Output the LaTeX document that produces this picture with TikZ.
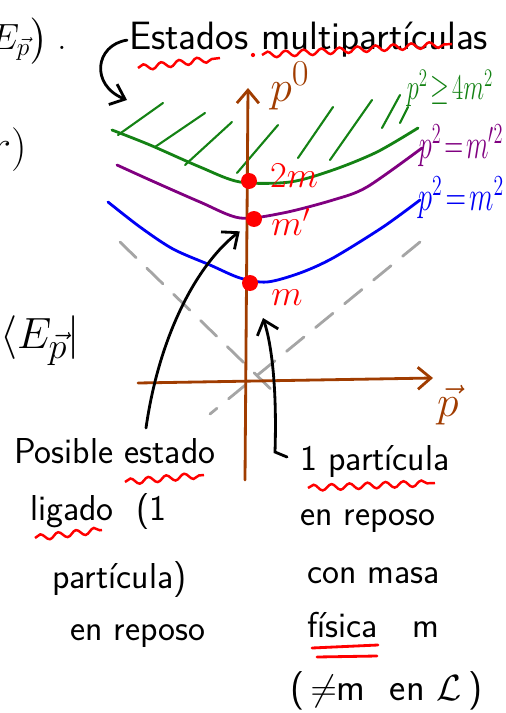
\documentclass[tikz,border=0pt]{standalone}
\usepackage{amsmath, amssymb}
\usepackage{tikz}
\usetikzlibrary{arrows.meta, decorations.pathmorphing}
\definecolor{AxisBrown}{RGB}{160, 60, 0}
\definecolor{HatchGreen}{RGB}{20, 130, 20}
\definecolor{ShellPurple}{RGB}{128, 0, 128}
\definecolor{ShellBlue}{RGB}{0, 0, 245}
\definecolor{MarkRed}{RGB}{255, 0, 0}
\definecolor{ConeGray}{RGB}{165, 165, 165}

\begin{document}
\begin{tikzpicture}[x=0.02cm, y=-0.02cm,
    pen/.style={line width=1.6pt, line cap=round},
    handtip/.style={-{Straight Barb[length=2.6mm, width=4.4mm]}},
    scribble/.style={font=\sffamily\fontsize{20.5}{24}\selectfont, inner sep=1pt, anchor=base west},
    massdot/.style={circle, fill=MarkRed, inner sep=0pt, minimum size=0.32cm},
    squiggle/.style={MarkRed, line width=1.4pt, decorate, decoration={snake, segment length=0.36cm, amplitude=0.06cm}}]
  \useasboundingbox (0,0) rectangle (506,713);

    % Cut-off notes on the left
    \node[anchor=base east, inner sep=0pt, font=\fontsize{22}{24}\selectfont] (fraga) at (68,50) {$E_{\vec p}\big)$\hspace{0.2cm}.};
    \node[anchor=base east, inner sep=0pt, font=\fontsize{26}{28}\selectfont] (fragb) at (27,160) {$r)$};
    \node[anchor=base east, inner sep=0pt, font=\fontsize{30}{32}\selectfont] (fragc) at (80,348) {$\langle E_{\vec p}|$};

    % Light cone
    \coordinate (coneA) at (120,242); \coordinate (coneB) at (280,398);
    \coordinate (coneC) at (420,242); \coordinate (coneD) at (210,414);
    \draw[pen, ConeGray, dash pattern=on 0.45cm off 0.3cm] (coneA) -- (coneB);
    \draw[pen, ConeGray, dash pattern=on 0.45cm off 0.3cm] (coneC) -- (coneD);

    % Mass shells
    \draw[pen, HatchGreen] plot[smooth] coordinates {(112,130) (150,145) (200,167) (240,182) (290,182) (333,170) (377,152) (418,128)};
    \draw[pen, ShellPurple] plot[smooth] coordinates {(117,165) (150,180) (200,202) (240,218) (283,213) (333,200) (367,187) (422,148)};
    \draw[pen, ShellBlue] plot[smooth] coordinates {(108,202) (140,227) (173,249) (210,265) (240,278) (267,282) (300,273) (333,258) (383,227) (420,200)};

    % Hatching above the continuum
    \foreach \xa/\ya/\xb/\yb in {118/135/163/103, 155/147/205/113, 185/165/232/122, 237/173/278/125,
                                 298/158/333/107, 330/160/372/100, 382/128/400/95, 400/123/408/107} {
      \draw[line width=1.2pt, HatchGreen, line cap=round] (\xa,\ya) -- (\xb,\yb);
    }

    % Axes
    \coordinate (p0bot) at (245,480); \coordinate (p0top) at (248,88);
    \coordinate (pleft) at (138,383); \coordinate (pright) at (433,378);
    \draw[pen, AxisBrown, handtip] (p0bot) -- (p0top);
    \draw[pen, AxisBrown, handtip] (pleft) -- (pright);
    \node[AxisBrown, font=\fontsize{30}{32}\selectfont] (pzero) at (290,86) {$p^0$};
    \node[AxisBrown, font=\fontsize{28}{30}\selectfont] (pvec) at (448,405) {$\vec p$};

    % Shell labels
    \node[HatchGreen, inner sep=0pt, font=\fontsize{18}{20}\selectfont] (glab) at (450,88) {\scalebox{0.8}[1.2]{$p^2\!\geq\!4m^2$}};
    \node[ShellPurple, inner sep=0pt, font=\fontsize{21}{23}\selectfont] (plab) at (461,146) {\scalebox{0.72}[1.15]{$p^2\!=\!m'^2$}};
    \node[ShellBlue, inner sep=0pt, font=\fontsize{21}{23}\selectfont] (blab) at (461,198) {\scalebox{0.78}[1.15]{$p^2\!=\!m^2$}};

    % States at rest
    \node[massdot] (dtwo) at (249,181) {};
    \node[massdot] (dmp) at (254,219) {};
    \node[massdot] (dm) at (250,283) {};
    \node[MarkRed, font=\fontsize{20}{22}\selectfont] (ltwo) at (294,176) {$2m$};
    \node[MarkRed, font=\fontsize{20}{22}\selectfont] (lmp) at (291,222) {$m'$};
    \node[MarkRed, font=\fontsize{20}{22}\selectfont] (lm) at (287,298) {$m$};

    % Notes
    \node[scribble, font=\sffamily\fontsize{22.5}{26}\selectfont] (estados) at (127,50) {Estados multipartículas};
    \node[scribble] (posible) at (12,463) {Posible estado};
    \node[scribble] (ligado) at (28,520) {ligado \ (1};
    \node[scribble] (partA) at (50,588) {partícula)};
    \node[scribble] (reposoA) at (68,640) {en reposo};
    \node[scribble] (una) at (298,470) {1 partícula};
    \node[scribble] (reposoB) at (298,525) {en reposo};
    \node[scribble] (masa) at (305,583) {con masa};
    \node[scribble] (fisica) at (305,637) {física};
    \node[scribble] (fism) at (410,637) {m};
    \node[scribble, font=\sffamily\fontsize{22}{26}\selectfont] (noteL) at (288,700) {(\,$\neq$m \ en $\mathcal{L}$\,)};

    % Underlines
    \draw[squiggle] (138,68) -- (220,58);
    \draw[squiggle] (262,55) -- (452,44);
    \fill[MarkRed] (253,55) circle (1.2pt);
    \draw[squiggle] (125,482) -- (204,475);
    \draw[squiggle] (35,538) -- (102,530);
    \draw[squiggle] (308,488) -- (435,483);
    \draw[MarkRed, pen] (312,648) -- (378,645);
    \draw[MarkRed, pen] (317,657) -- (377,656);

    % Pointers
    \coordinate (hatchend) at (127,100);
    \coordinate (ligtail) at (146,428);
    \coordinate (unatail) at (287,457);
    \coordinate (mtip) at (263,318);
    \draw[pen, handtip] (estados.west) .. controls (95,45) and (90,85) .. (hatchend);
    \draw[pen, handtip, shorten >=6pt] (ligtail) .. controls (160,330) and (200,262) .. (dmp.south west);
    \draw[pen, handtip] (unatail) -- (275,452) .. controls (277,390) and (272,345) .. (mtip);
  \end{tikzpicture}
\end{document}
